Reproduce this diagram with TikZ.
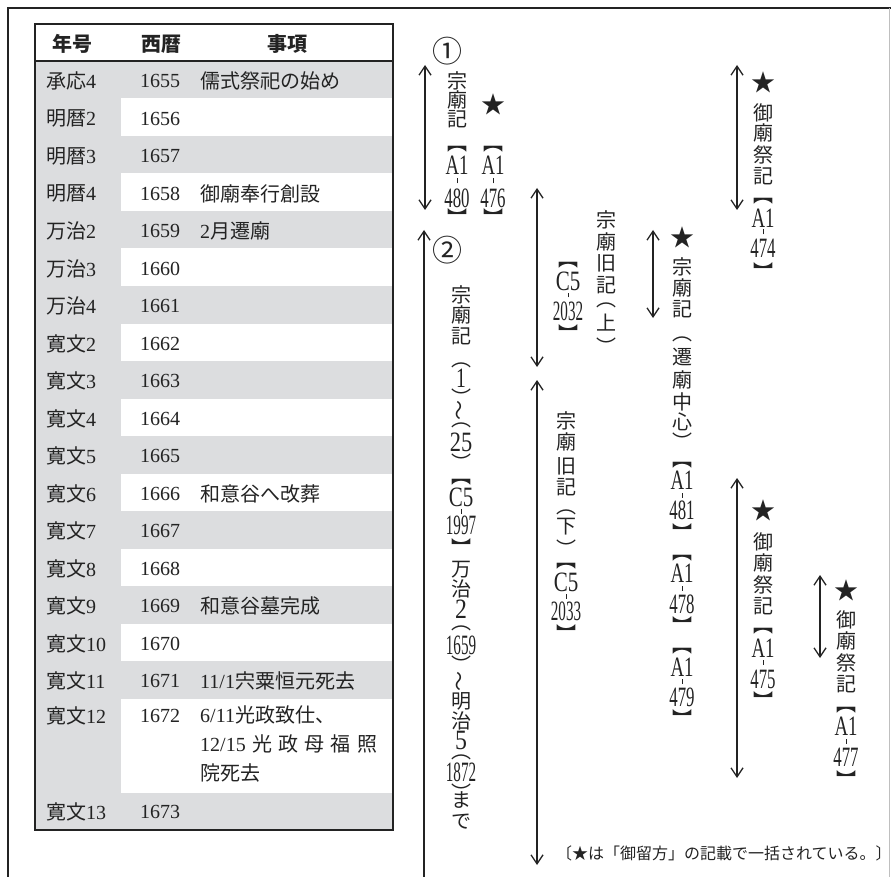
\documentclass[tikz,border=0pt]{standalone}
\usepackage{fontspec}
\usepackage{graphicx}
\setmainfont{Liberation Serif}
\newfontfamily\jp{Noto Sans CJK JP}
\usetikzlibrary{arrows.meta}

\definecolor{tabgrey}{RGB}{220,221,223}
\definecolor{ink}{RGB}{35,35,35}

% digits set upright in the vertical columns
\newcommand\nm[1]{{\rmfamily #1}}
\newcommand\vn[2][0.6]{\scalebox{#1}[1]{\fontsize{28}{28}\selectfont\rmfamily #2}}
\newcommand\tick{\rule{0.9pt}{5pt}}
\newcommand\vwave{\rotatebox[origin=c]{90}{～}}
\newcommand\st{{\fontsize{24}{24}\selectfont ★}}
\newcommand\ob{︻}
\newcommand\cb{\raisebox{-8pt}[0.88em][0.12em]{︼}}
\newcommand\op{︵}
\newcommand\cp{\raisebox{-8pt}[0.88em][0.12em]{︶}}
\newcommand\vcol[3]{\foreach \yy/\cc [count=\k] in {#3} {\node[vch] (#1-\k) at (#2,\yy) {\cc};}}

\tikzset{
  frame/.style={draw=ink, line width=1.2pt},
  tabline/.style={draw=ink, line width=1.3pt},
  cell/.style={font=\jp\fontsize{20}{24}\selectfont, text=ink, inner sep=0pt, anchor=west},
  head/.style={font=\jp\bfseries\fontsize{20}{24}\selectfont, text=ink, inner sep=0pt},
  vch/.style={font=\jp\fontsize{20}{20}\selectfont, text=ink, inner sep=0pt},
  marker/.style={font=\jp\fontsize{30}{30}\selectfont, text=ink, inner sep=0pt},
  note/.style={font=\jp\fontsize{16}{16}\selectfont, text=ink, inner sep=0pt, anchor=west},
  span/.style={draw=ink, line width=1.3pt, {Straight Barb[length=9pt,width=12pt]}-{Straight Barb[length=9pt,width=12pt]}},
  halfspan/.style={draw=ink, line width=1.3pt, {Straight Barb[length=9pt,width=12pt]}-},
}

\begin{document}
\begin{tikzpicture}[x=1pt,y=-1pt]
\useasboundingbox (0,0) rectangle (891,877);
\fill[white] (0,0) rectangle (891,877);

% frame, open at the bottom
\draw[frame] (8,877) -- (8,8) -- (891,8);
\draw[draw=black!25, line width=0.8pt] (889,8) -- (889,877);

% table
\fill[tabgrey] (35,24) rectangle (393,830);
\fill[white] (35,24) rectangle (393,61);
\foreach \i in {1,3,...,15} \fill[white] (121,61+37.5*\i) rectangle (393,98.5+37.5*\i);
\fill[white] (121,698.5) rectangle (393,793);
\draw[tabline] (35,24) rectangle (393,830);
\draw[tabline] (35,61) -- (393,61);

\node[head] (h1) at (72,44) {年号};
\node[head] (h2) at (161,44) {西暦};
\node[head] (h3) at (287,44) {事項};

\foreach \era/\en [count=\i from 0] in {承応/4,明暦/2,明暦/3,明暦/4,万治/2,万治/3,万治/4,寛文/2,寛文/3,寛文/4,寛文/5,寛文/6,寛文/7,寛文/8,寛文/9,寛文/10,寛文/11} {
  \pgfmathtruncatemacro\yr{1655+\i}
  \node[cell] (era\i) at (46,81+37.5*\i) {\era\nm{\en}};
  \node[cell] (yr\i) at (140,81+37.5*\i) {\nm{\yr}};
}
\foreach \i/\ev in {0/儒式祭祀の始め, 3/御廟奉行創設, 4/{\nm{2}月遷廟}, 11/和意谷へ改葬, 14/和意谷墓完成, 16/{\nm{11/1}宍粟恒元死去}}
  \node[cell] (ev\i) at (200,81+37.5*\i) {\ev};

\node[cell] (era17) at (46,716) {寛文\nm{12}};
\node[cell] (yr17) at (140,716) {\nm{1672}};
\node[cell, anchor=north west, align=left, font=\jp\fontsize{20}{29}\selectfont] (ev17) at (200,705)
  {\nm{6/11}光政致仕、\\\makebox[177pt][s]{\nm{12/15}\hfill 光\hfill 政\hfill 母\hfill 福\hfill 照}\\院死去};
\node[cell] (era18) at (46,812) {寛文\nm{13}};
\node[cell] (yr18) at (140,812) {\nm{1673}};

% spans
\foreach \n/\x/\ya/\yb in {1/425/65/210, 3/537/188/367, 4/537/380/865, 5/737/65/210, 6/653/230/318, 7/737/478/778, 8/820/575/658} {
  \coordinate (top\n) at (\x,\ya);
  \coordinate (bot\n) at (\x,\yb);
  \draw[span] (top\n) -- (bot\n);
}
\coordinate (top2) at (424,230);
\coordinate (bot2) at (424,877);
\draw[halfspan] (top2) -- (bot2);

\node[marker] (m1) at (447,51) {①};
\node[marker] (m2) at (447,250) {②};

% labels
\vcol{ka}{457}{81/宗,100/廟,119/記,149/\ob,165/\vn[0.67]{A1},181/\tick,198/\vn{480},210/\cb}
\vcol{kb}{493}{104/\st,149/\ob,165/\vn[0.67]{A1},181/\tick,198/\vn{476},210/\cb}
\vcol{kc}{461}{295/宗,315/廟,336/記,365/\op,378/\vn[0.7]{1},390/\cp,410/\vwave,425/\op,442/\vn[0.8]{25},455/\cp,482/\ob,497/\vn[0.75]{C5},511/\tick,525/\vn[0.54]{1997},540/\cb,570/万,589/治,609/\vn[0.85]{2},628/\op,645/\vn[0.54]{1659},657/\cp,681/\vwave,701/明,721/治,740/\vn[0.85]{5},757/\op,772/\vn[0.54]{1872},785/\cp,800/ま,822/で}
\vcol{kd}{568}{265/\ob,281/\vn[0.75]{C5},295/\tick,311/\vn[0.54]{2032},326/\cb}
\vcol{ke}{606}{220/宗,242/廟,263/旧,285/記,305/\op,323/上,339/\cp}
\vcol{kf}{566}{421/宗,442/廟,466/旧,487/記,512/\op,527/下,541/\cp,566/\ob,582/\vn[0.75]{C5},596/\tick,611/\vn[0.54]{2033},626/\cb}
\vcol{kg}{763}{82/\st,113/御,133/廟,155/祭,176/記,201/\ob,218/\vn[0.67]{A1},232/\tick,248/\vn{474},264/\cb}
\vcol{kh}{682}{237/\st,267/宗,288/廟,309/記,339/\op,357/遷,380/廟,402/中,422/心,434/\cp,465/\ob,480/\vn[0.67]{A1},495/\tick,510/\vn{481},525/\cb,558/\ob,573/\vn[0.67]{A1},588/\tick,604/\vn{478},618/\cb,651/\ob,667/\vn[0.67]{A1},681/\tick,697/\vn{479},711/\cb}
\vcol{ki}{763}{510/\st,542/御,563/廟,585/祭,606/記,631/\ob,648/\vn[0.67]{A1},662/\tick,679/\vn{475},693/\cb}
\vcol{kj}{846}{590/\st,620/御,641/廟,663/祭,684/記,710/\ob,726/\vn[0.67]{A1},741/\tick,757/\vn{477},772/\cb}

\node[note] (note) at (556,853) {〔★は「御留方」の記載で一括されている。〕};
\end{tikzpicture}
\end{document}
